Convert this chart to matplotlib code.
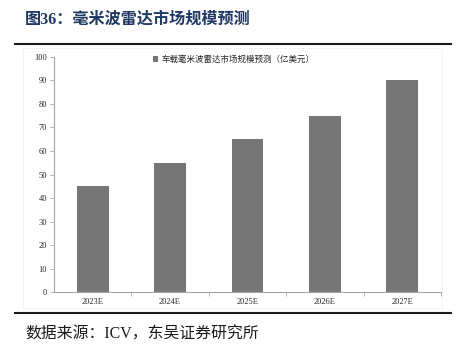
import matplotlib.pyplot as plt
from matplotlib.lines import Line2D
from matplotlib.patches import Rectangle

# Forecast data
YEARS = ['2023E', '2024E', '2025E', '2026E', '2027E']
MARKET_SIZE = [45, 55, 65, 75, 90]
SERIES_LABEL = '车载毫米波雷达市场规模预测（亿美元）'
TITLE = '图36：毫米波雷达市场规模预测'
SOURCE = '数据来源：ICV，东吴证券研究所'

FONTS = ['Liberation Serif', 'Noto Sans CJK SC']
BAR_COLOR = '#767676'
SPINE_COLOR = '#a6a6a6'

plt.rcParams['font.family'] = FONTS

fig = plt.figure(figsize=(4.58, 3.49), dpi=100)
W, H = 458, 349


def fx(px):
    return px / W


def fy(py):
    return 1 - py / H


# faint frame around the chart area
fig.patches.append(Rectangle((fx(23), fy(308)), fx(442) - fx(23), fy(48) - fy(308),
                             transform=fig.transFigure, fill=False,
                             edgecolor='#f2f2f2', linewidth=0.6))

ax = fig.add_axes([fx(54), fy(292.3), fx(441) - fx(54), fy(56.7) - fy(292.3)])
x = list(range(len(YEARS)))
ax.bar(x, MARKET_SIZE, width=0.41, color=BAR_COLOR, label=SERIES_LABEL)

ax.set_xlim(-0.5, len(YEARS) - 0.5)
ax.set_ylim(0, 100)
ax.set_yticks(range(0, 101, 10))
ax.set_xticks(x)
ax.set_xticklabels(YEARS)
ax.set_xticks([i + 0.5 for i in x], minor=True)

for side in ['top', 'right']:
    ax.spines[side].set_visible(False)
for side in ['left', 'bottom']:
    ax.spines[side].set_color(SPINE_COLOR)
    ax.spines[side].set_linewidth(0.8)

ax.tick_params(axis='y', length=3, width=0.6, color=SPINE_COLOR,
               labelsize=6, labelcolor='#262626', pad=2)
ax.tick_params(axis='x', which='major', length=0, labelsize=6,
               labelcolor='#262626', pad=4)
ax.tick_params(axis='x', which='minor', length=3, width=0.6, color=SPINE_COLOR)

leg = ax.legend(loc='upper left', bbox_to_anchor=(fx(150), fy(52)),
                bbox_transform=fig.transFigure, frameon=False,
                fontsize=6.1, handlelength=0.6, handleheight=0.6,
                handletextpad=0.3, borderaxespad=0)
for t in leg.get_texts():
    t.set_color('#262626')

# title and source, with rules above and below the chart
fig.text(fx(25), fy(20), TITLE, fontsize=11.6, fontweight='bold',
         color='#1f3864', va='center', ha='left')
fig.add_artist(Line2D([fx(15), fx(451)], [fy(43.5), fy(43.5)],
                      color='#1a1a1a', linewidth=1.5))
fig.add_artist(Line2D([fx(15), fx(451)], [fy(313.3), fy(313.3)],
                      color='#1a1a1a', linewidth=1.5))
fig.text(fx(25), fy(335), SOURCE, fontsize=11.4, color='#1a1a1a',
         va='center', ha='left')

fig.savefig('out.png', dpi=100)
